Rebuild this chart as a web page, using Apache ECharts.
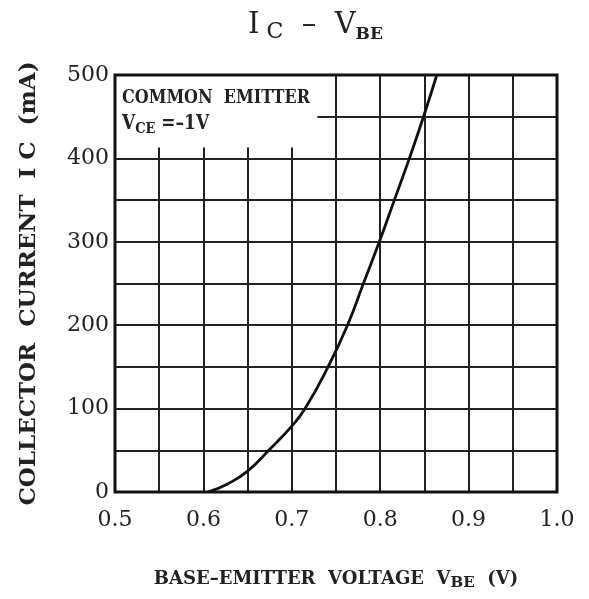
<!DOCTYPE html>
<html><head><meta charset="utf-8">
<script src="https://cdn.jsdelivr.net/npm/echarts@6.0.0/dist/echarts.min.js"></script>
<style>html,body{margin:0;padding:0;background:#fff}#c{width:589px;height:599px}</style>
</head><body><div id="c"></div>
<script>
// Base-emitter voltage (V) and collector current (mA)
const vbe = [0.605, 0.628, 0.65, 0.674, 0.70, 0.715, 0.741, 0.763, 0.781, 0.799, 0.816, 0.833, 0.849, 0.864];
const ic  = [0, 10, 25, 50, 79, 100, 150, 200, 250, 300, 350, 400, 450, 500];
const xTickLabels = ['0.5', '0.6', '0.7', '0.8', '0.9', '1.0'];
const yTickLabels = ['0', '100', '200', '300', '400', '500'];

const F = 'DejaVu Serif';
const chart = echarts.init(document.getElementById('c'));
chart.setOption({
  animation: false,
  backgroundColor: '#fff',
  title: {
    left: 243, top: 2,
    text: '{m|I}{c| C}{m|  \u2013  V}{s|BE}',
    textStyle: {
      rich: {
        m: { fontFamily: F, fontSize: 29, fontWeight: 'normal', color: '#222', lineHeight: 36, verticalAlign: 'middle' },
        c: { fontFamily: F, fontSize: 22, fontWeight: 'normal', color: '#222', lineHeight: 22, verticalAlign: 'bottom' },
        s: { fontFamily: F, fontSize: 17, fontWeight: 'bold', color: '#222', lineHeight: 18, verticalAlign: 'bottom' }
      }
    }
  },
  grid: { left: 115, right: 32, top: 75, bottom: 107, show: true, borderColor: '#111', borderWidth: 3, z: 10 },
  xAxis: {
    type: 'value', min: 0.5, max: 1.0, interval: 0.05,
    axisLine: { show: false }, axisTick: { show: false },
    splitLine: { show: true, lineStyle: { color: '#222', width: 2 } },
    axisLabel: {
      margin: 17, fontFamily: F, fontSize: 22, color: '#222',
      formatter: v => { const k = (v - 0.5) / 0.1; const r = Math.round(k); return Math.abs(k - r) < 1e-6 ? xTickLabels[r] : ''; }
    },
    name: '{t|BASE\u2013EMITTER  VOLTAGE  V}{s|BE}{t|  (V)}',
    nameLocation: 'middle', nameGap: 75,
    nameTextStyle: {
      rich: {
        t: { fontFamily: F, fontSize: 18, fontWeight: 'bold', color: '#222', lineHeight: 24, verticalAlign: 'middle' },
        s: { fontFamily: F, fontSize: 15, fontWeight: 'bold', color: '#222', lineHeight: 14, verticalAlign: 'bottom' }
      }
    }
  },
  yAxis: {
    type: 'value', min: 0, max: 500, interval: 50,
    axisLine: { show: false }, axisTick: { show: false },
    splitLine: { show: true, lineStyle: { color: '#222', width: 2 } },
    axisLabel: {
      margin: 6, fontFamily: F, fontSize: 22, color: '#222',
      formatter: v => { const k = v / 100; const r = Math.round(k); return Math.abs(k - r) < 1e-6 ? yTickLabels[r] : ''; }
    },
    name: 'COLLECTOR  CURRENT  I C  (mA)',
    nameLocation: 'middle', nameGap: 74, nameRotate: 90,
    nameTextStyle: { fontFamily: F, fontSize: 23, fontWeight: 'bold', color: '#222' }
  },
  series: [{
    type: 'line', data: vbe.map((v, i) => [v, ic[i]]),
    smooth: 0.5, showSymbol: false,
    lineStyle: { color: '#111', width: 2.8 },
    markArea: {
      silent: true,
      itemStyle: { color: '#fff' },
      data: [[{ coord: [0.5, 500] }, { coord: [0.729, 413] }]]
    }
  }],
  graphic: [
    { type: 'text', left: 122, top: 88, z: 20, scaleX: 1, scaleY: 1.2,
      style: { text: 'COMMON  EMITTER', font: 'bold 16px "DejaVu Serif"', fill: '#222' } },
    { type: 'text', left: 122, top: 114, z: 20, scaleY: 1.15,
      style: { text: '{v|V}{s|CE}{v| =\u20131V}',
        rich: {
          v: { fontFamily: F, fontSize: 17, fontWeight: 'bold', fill: '#222', lineHeight: 22, verticalAlign: 'middle' },
          s: { fontFamily: F, fontSize: 13, fontWeight: 'bold', fill: '#222', lineHeight: 12, verticalAlign: 'bottom' }
        } } }
  ]
});
</script>
</body></html>
